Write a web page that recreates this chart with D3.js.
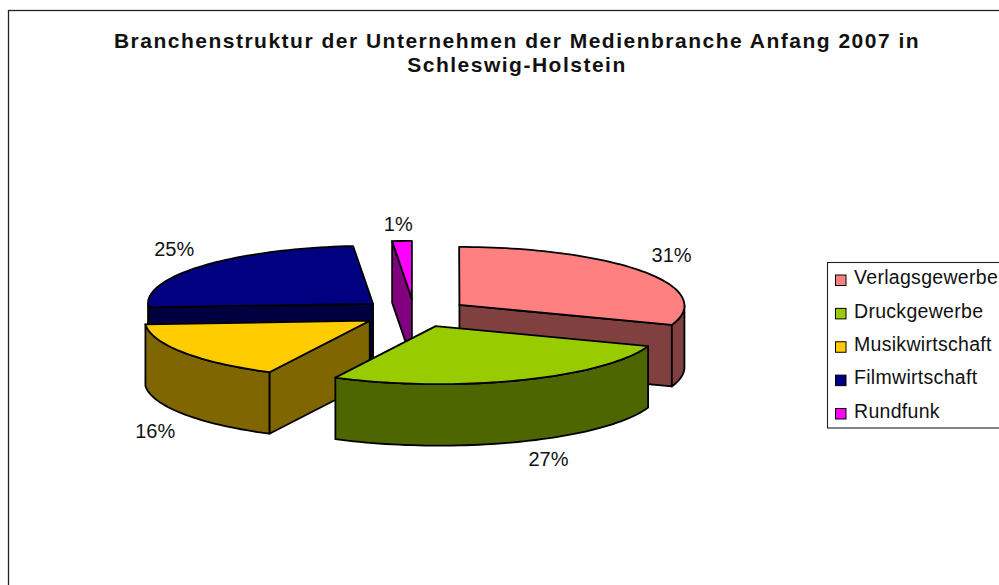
<html>
<head>
<meta charset="utf-8">
<script src="https://d3js.org/d3.v7.min.js"></script>
<style>
  html, body { margin: 0; padding: 0; background: white; overflow: hidden; }
  text { font-family: "Liberation Sans", Arial, sans-serif; fill: #111; }
</style>
</head>
<body>
<svg width="999" height="585"></svg>
<script>
// values
const categories = ["Verlagsgewerbe", "Druckgewerbe", "Musikwirtschaft", "Filmwirtschaft", "Rundfunk"];
const shares = [0.306, 0.27, 0.164, 0.246, 0.014];
const topColors = ["#FF8080", "#99CC00", "#FFCC00", "#000080", "#FF00FF"];
const sideColors = ["#804040", "#4D6600", "#806600", "#000040", "#800080"];
const titleLines = ["Branchenstruktur der Unternehmen der Medienbranche Anfang 2007 in", "Schleswig-Holstein"];

const svg = d3.select("svg");
const depth = 61.5, explode = 0.243, shear = 0.06;

// the tilted pie: unit circle -> screen
const xScale = d3.scaleLinear().domain([-1, 1]).range([414.3 - 225, 414.3 + 225]);
const yScale = d3.scaleLinear().domain([-1, 1]).range([313 - 58, 313 + 58]);

const topColor = d3.scaleOrdinal().domain(categories).range(topColors);
const sideColor = d3.scaleOrdinal().domain(categories).range(sideColors);
const fmt = d3.format(".0%");

const slices = d3.pie().sort(null).value(d => d.share)(categories.map((c, i) => ({name: c, share: shares[i]})));

slices.forEach(s => {
  s.mid = (s.startAngle + s.endAngle) / 2;
  s.ox = explode * Math.sin(s.mid);
  s.oy = explode * Math.cos(s.mid);
  // point of this slice at angle a, radius r, dropped by dz
  s.pt = (a, r, dz) => {
    const y = yScale(-(s.oy + r * Math.cos(a)));
    // the front part of the plot leans a little to the right
    return [xScale(s.ox + r * Math.sin(a)) + shear * Math.max(0, y - 300), y + (dz || 0)];
  };
});

const line = d3.line();
const arcAngles = (a0, a1) => {
  const n = Math.max(2, Math.ceil((a1 - a0) / 0.03));
  return d3.range(n + 1).map(i => a0 + (a1 - a0) * i / n);
};

const face = (g, pts, fill) => g.append("path")
  .attr("d", line(pts) + "Z")
  .attr("fill", fill)
  .attr("stroke", "#000")
  .attr("stroke-width", 1.8)
  .attr("stroke-linejoin", "round");

// frame, runs off the picture on the right and at the bottom
svg.append("rect").attr("x", 8.5).attr("y", 10.5).attr("width", 1100).attr("height", 700)
  .attr("fill", "white").attr("stroke", "#222").attr("stroke-width", 1.3);

svg.append("g").selectAll("text").data(titleLines).enter().append("text")
  .attr("x", 517)
  .attr("y", (d, i) => 48 + i * 24)
  .attr("text-anchor", "middle")
  .style("font-size", "21px")
  .style("font-weight", "bold")
  .style("letter-spacing", "1.5px")
  .text(d => d);

// back to front
const order = slices.slice().sort((a, b) => (-a.oy) - (-b.oy));
order.forEach(s => {
  const g = svg.append("g");
  const side = sideColor(s.data.name);
  const center = s.pt(0, 0);
  // radial faces that look at the viewer
  [[s.startAngle, Math.sin(s.startAngle) < 0], [s.endAngle, Math.sin(s.endAngle) > 1e-6]].forEach(([a, vis]) => {
    if (!vis) return;
    const p = s.pt(a, 1);
    face(g, [center, p, [p[0], p[1] + depth], [center[0], center[1] + depth]], side);
  });
  // outer wall, front half only
  const a0 = Math.max(s.startAngle, Math.PI / 2), a1 = Math.min(s.endAngle, Math.PI * 1.5);
  if (a1 > a0) {
    const rim = arcAngles(a0, a1);
    face(g, rim.map(a => s.pt(a, 1)).concat(rim.slice().reverse().map(a => s.pt(a, 1, depth))), side);
  }
  // top
  face(g, [center].concat(arcAngles(s.startAngle, s.endAngle).map(a => s.pt(a, 1))), topColor(s.data.name));
});

// percentage labels
svg.append("g").selectAll("text").data(slices).enter().append("text")
  .attr("x", d => {
    const sx = Math.sin(d.mid);
    return d.pt(d.mid, 1)[0] + 28 * Math.max(-1, Math.min(1, sx * 3));
  })
  .attr("y", d => {
    const front = Math.cos(d.mid) < 0;
    return d.pt(d.mid, 1)[1] + (front ? depth + 17 : -17);
  })
  .attr("dy", "0.35em")
  .attr("text-anchor", "middle")
  .style("font-size", "20px")
  .text(d => fmt(d.data.share));

// legend
const legend = svg.append("g");
const rowY = d3.scalePoint().domain(categories).range([280.5, 414]);
legend.append("rect").attr("x", 827.5).attr("y", 262.5).attr("width", 250).attr("height", 165.5)
  .attr("fill", "white").attr("stroke", "#222").attr("stroke-width", 1.1);
legend.selectAll("rect.key").data(categories).enter().append("rect")
  .attr("class", "key")
  .attr("x", 835.5)
  .attr("y", d => rowY(d) - 5.5)
  .attr("width", 10.5)
  .attr("height", 10.5)
  .attr("fill", d => topColor(d))
  .attr("stroke", "#000")
  .attr("stroke-width", 1);
legend.selectAll("text").data(categories).enter().append("text")
  .attr("x", 854)
  .attr("y", d => rowY(d) - 3)
  .attr("dy", "0.35em")
  .style("font-size", "19.5px")
  .style("letter-spacing", "0.3px")
  .text(d => d);
</script>
</body>
</html>
